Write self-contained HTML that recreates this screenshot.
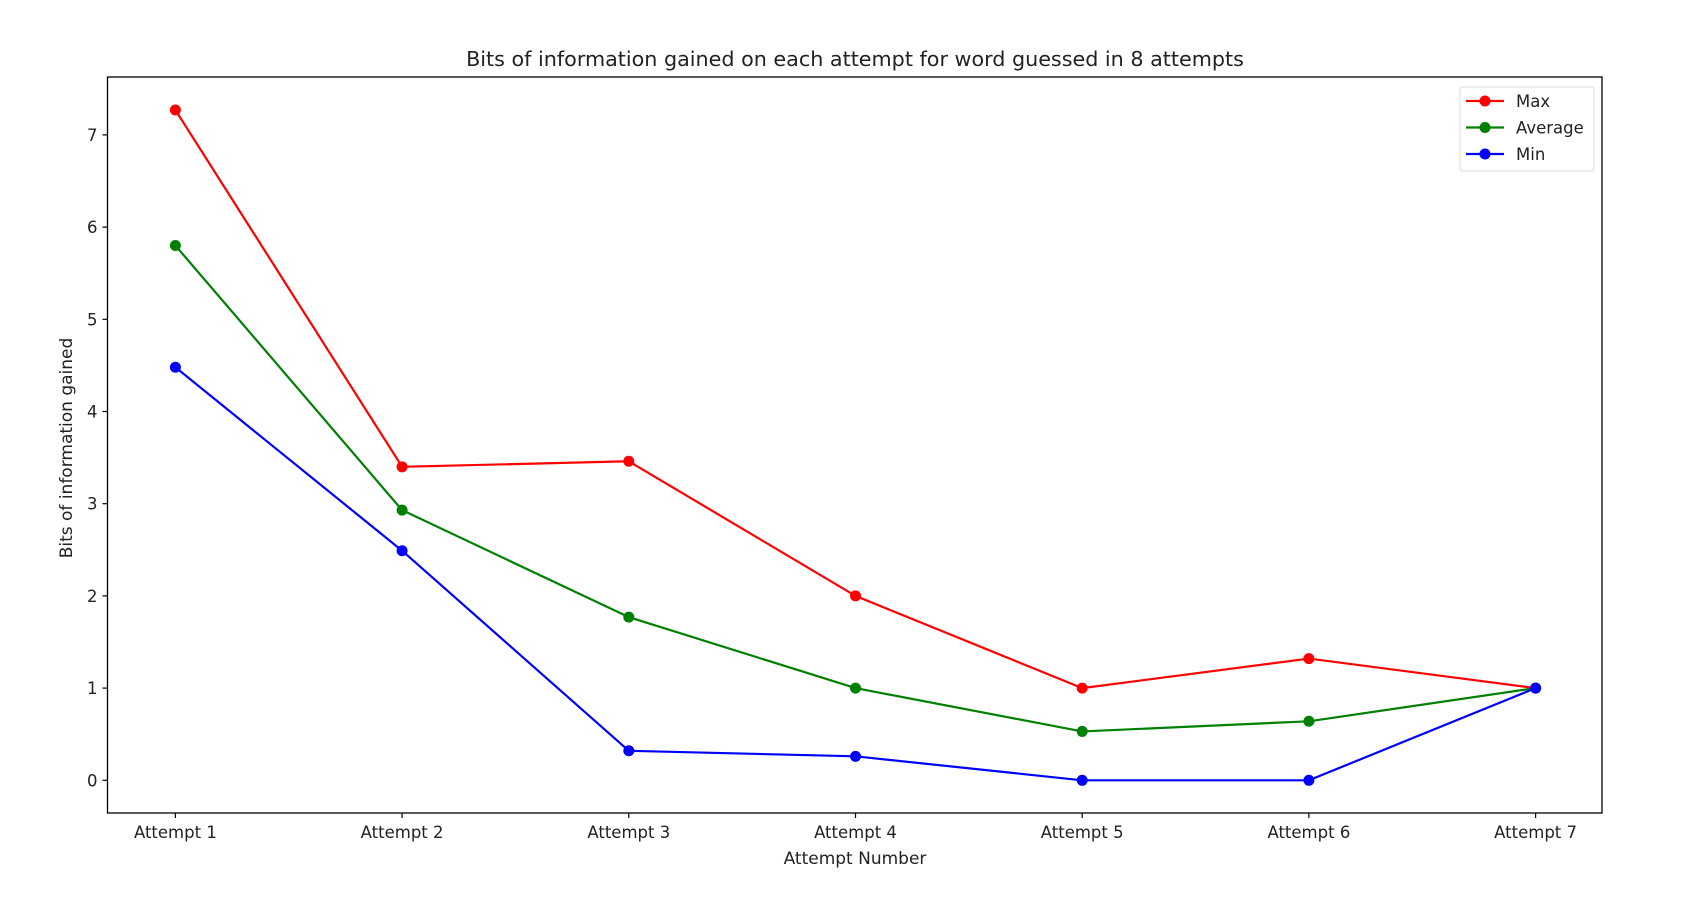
<!DOCTYPE html>
<html><head><meta charset="utf-8"><style>
body{margin:0;background:#fff}
svg text{font-family:"DejaVu Sans","Liberation Sans",sans-serif;fill:#222}
</style></head><body>
<svg width="1705" height="894">
<g id="plot"></g>
</svg>
<script>
const categories=["Attempt 1","Attempt 2","Attempt 3","Attempt 4","Attempt 5","Attempt 6","Attempt 7"];
const maxValues=[7.27,3.40,3.46,2.0,1.0,1.32,1.0];
const avgValues=[5.80,2.93,1.77,1.0,0.53,0.64,1.0];
const minValues=[4.48,2.49,0.32,0.26,0,0,1.0];
const yTicks=[0,1,2,3,4,5,6,7];
const L=107.5,R=1602,T=77,B=813;
const x=i=>175.4+i*226.7;
const y=v=>780.3-v*92.2;
const NS="http://www.w3.org/2000/svg";
const g=document.getElementById('plot');
function mk(t,a,txt){const e=document.createElementNS(NS,t);for(const k in a)e.setAttribute(k,a[k]);if(txt!==undefined)e.textContent=txt;g.appendChild(e);return e;}
let e;
e=mk('text',{x:855,y:66,'text-anchor':'middle','font-size':20.7},'Bits of information gained on each attempt for word guessed in 8 attempts');


yTicks.forEach(v=>{
 e=mk('line',{x1:L-5,x2:L,y1:y(v),y2:y(v),stroke:'#000','stroke-width':1.2});
 
 
 e=mk('text',{x:L-10,y:y(v)+6,'text-anchor':'end','font-size':16.5},String(v));
 
 
});
categories.forEach((c,i)=>{
 e=mk('line',{x1:x(i),x2:x(i),y1:B,y2:B+5,stroke:'#000','stroke-width':1.2});
 
 
 e=mk('text',{x:x(i),y:B+25,'text-anchor':'middle','font-size':16.5},c);
 
 
});
e=mk('text',{x:855,y:864,'text-anchor':'middle','font-size':17},'Attempt Number');


e=mk('text',{x:0,y:0,'text-anchor':'middle','font-size':17,transform:'translate(72,448) rotate(-90)'},'Bits of information gained');


const series=[["max",maxValues,"#ff0000"],["average",avgValues,"#008000"],["min",minValues,"#0000ff"]];
series.forEach(([n,vals,col])=>{
 e=mk('polyline',{points:vals.map((v,i)=>x(i)+','+y(v)).join(' '),fill:'none',stroke:col,'stroke-width':2.2});
 
 
 vals.forEach((v,i)=>{
  e=mk('circle',{cx:x(i),cy:y(v),r:5.5,fill:col});
  
  
 });
});
e=mk('rect',{x:L,y:T,width:R-L,height:B-T,fill:'none',stroke:'#000','stroke-width':1.3});


e=mk('rect',{x:1460,y:87,width:134,height:84,rx:3,fill:'#fff','fill-opacity':0.8,stroke:'#ddd','stroke-width':1});


[["Max","#ff0000"],["Average","#008000"],["Min","#0000ff"]].forEach(([lab,col],i)=>{
 const yy=101+i*26.5;
 e=mk('line',{x1:1466,x2:1504,y1:yy,y2:yy,stroke:col,'stroke-width':2.2});
 
 
 e=mk('circle',{cx:1485,cy:yy,r:5.5,fill:col});
 
 
 e=mk('text',{x:1516,y:yy+6,'font-size':16.5},lab);
 
 
});
</script>
</body></html>
